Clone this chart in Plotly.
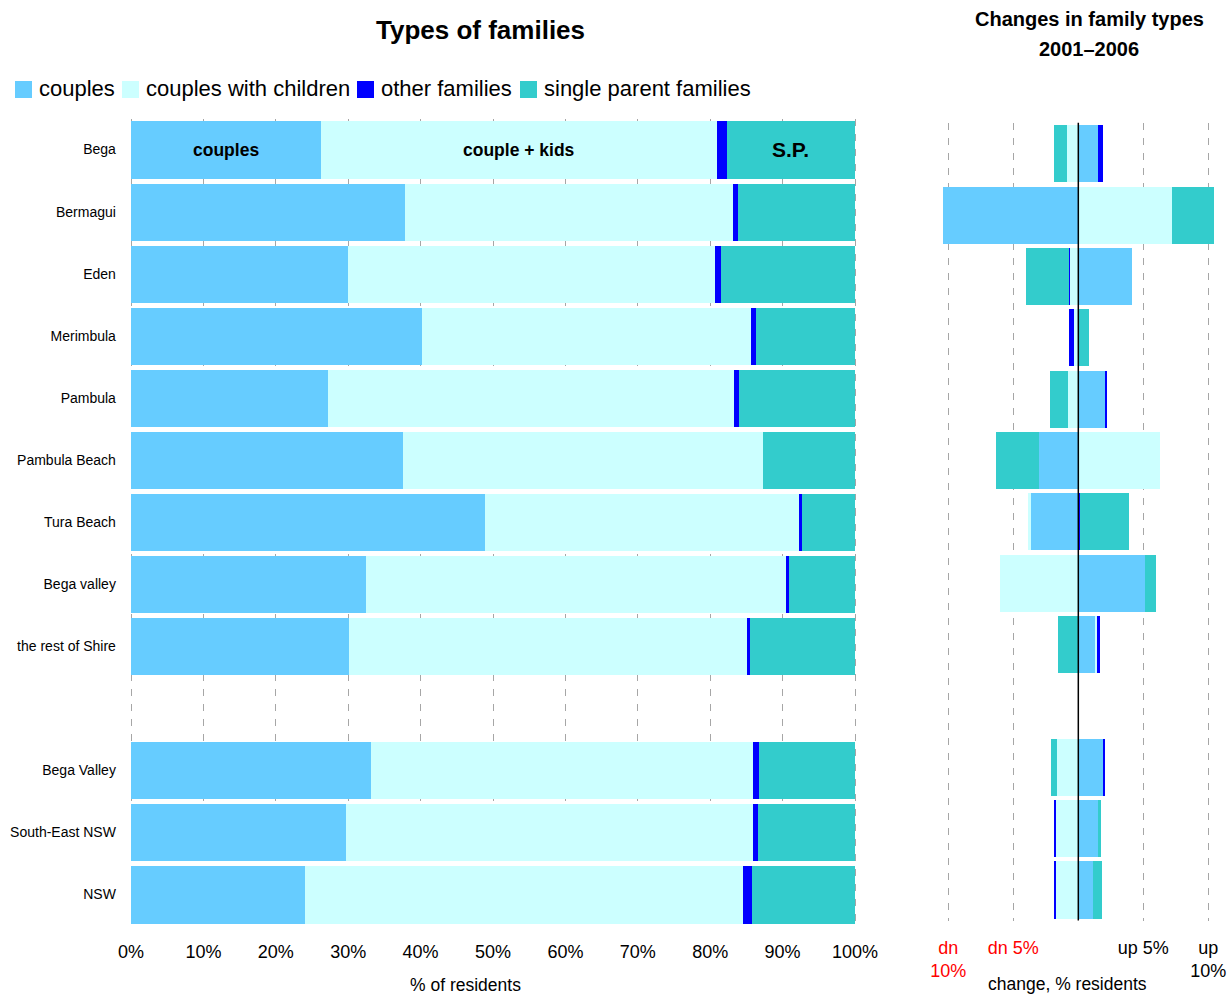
import plotly.graph_objects as go

# ---------------- data ----------------
places = ["Bega", "Bermagui", "Eden", "Merimbula", "Pambula", "Pambula Beach",
          "Tura Beach", "Bega valley", "the rest of Shire",
          "Bega Valley", "South-East NSW", "NSW"]
gap_after = 8  # a blank row separates the shire rows from the comparison rows

series_names = ["couples", "couples with children", "other families", "single parent families"]
series_colors = ["#66CCFF", "#CCFFFF", "#0000FF", "#33CCCC"]

# share of families (% of residents)
couples      = [26.2, 37.8, 30.0, 40.2, 27.2, 37.6, 48.9, 32.5, 30.1, 33.1, 29.7, 24.0]
couples_kids = [54.7, 45.3, 50.7, 45.4, 56.1, 49.7, 43.4, 58.0, 55.0, 52.8, 56.2, 60.5]
other_fam    = [1.4, 0.7, 0.8, 0.7, 0.7, 0.0, 0.3, 0.4, 0.4, 0.8, 0.7, 1.3]
single_par   = [17.7, 16.2, 18.5, 13.7, 16.0, 12.7, 7.4, 9.1, 14.5, 13.3, 13.4, 14.2]

# change 2001-2006 (percentage points)
chg_couples      = [1.5, -10.5, 4.1, 0.0, 2.1, -3.0, -3.65, 5.1, 1.3, 1.95, 1.5, 1.15]
chg_couples_kids = [-0.9, 7.2, -0.7, -0.3, -0.8, 6.3, -0.2, -6.0, 0.1, -1.65, -1.75, -1.75]
chg_other        = [0.4, 0.0, -0.05, -0.45, 0.1, 0.0, 0.15, 0.0, 0.3, 0.08, -0.08, -0.08]
chg_single_par   = [-1.0, 3.3, -3.3, 0.85, -1.4, -3.3, 3.75, 0.9, -1.6, -0.45, 0.25, 0.7]

left_tickvals = list(range(0, 101, 10))
left_ticktext = [f"{v}%" for v in left_tickvals]
right_tickvals = [-10, -5, 5, 10]
right_ticktext = ["<span style='color:red'>dn</span><br><span style='color:red'>10%</span>",
                  "<span style='color:red'>dn 5%</span>",
                  "up 5%",
                  "up<br>10%"]
bar_labels = ["couples", "couple + kids", None, "S.P."]

# ---------------- layout helpers ----------------
W, H = 1227, 994
def px(x):
    return x / W
def py(y):
    return 1 - y / H

ypos = [i if i <= gap_after else i + 1 for i in range(len(places))]
nrows = len(places) + 1

FONT = "Liberation Sans, Arial, Helvetica, sans-serif"

fig = go.Figure()

left_vals = [couples, couples_kids, other_fam, single_par]
right_vals = [chg_couples, chg_couples_kids, chg_other, chg_single_par]

for name, col, vals in zip(series_names, series_colors, left_vals):
    fig.add_trace(go.Bar(x=vals, y=ypos, orientation="h", name=name,
                         marker=dict(color=col, line=dict(width=0)),
                         width=0.92, xaxis="x", yaxis="y", showlegend=False,
                         hovertemplate="%{x}%<extra>" + name + "</extra>"))

for name, col, vals in zip(series_names, series_colors, right_vals):
    fig.add_trace(go.Bar(x=vals, y=ypos, orientation="h", name=name,
                         marker=dict(color=col, line=dict(width=0)),
                         width=0.93, xaxis="x2", yaxis="y2", showlegend=False,
                         hovertemplate="%{x}<extra>" + name + "</extra>"))

grid = dict(showgrid=True, gridcolor="#A6A6A6", gridwidth=1, griddash="7px,8px")

fig.update_layout(
    template="none",
    width=W, height=H,
    margin=dict(l=0, r=0, t=0, b=0, autoexpand=False),
    paper_bgcolor="white", plot_bgcolor="white",
    barmode="relative", bargap=0,
    font=dict(family=FONT, color="black"),
    xaxis=dict(domain=[px(131 - 0.15 * 7.24), px(855 + 0.15 * 7.24)], range=[-0.15, 100.15],
               tickvals=left_tickvals, ticktext=left_ticktext,
               zeroline=False, showline=False, ticks="", automargin=False,
               tickfont=dict(family=FONT, size=18), ticklabelstandoff=13,
               ticklabeloverflow="allow",
               anchor="y", fixedrange=True, **grid),
    yaxis=dict(domain=[py(925.5), py(118.5)], range=[nrows - 0.5, -0.5],
               tickvals=ypos, ticktext=places, showgrid=False, zeroline=False,
               ticks="", tickfont=dict(family=FONT, size=14), automargin=False,
               ticklabelstandoff=13, anchor="x", fixedrange=True),
    xaxis2=dict(domain=[px(943), px(1214)], range=[-10.41, 10.44],
                tickvals=right_tickvals, ticktext=right_ticktext,
                zeroline=False, showline=False, ticks="", automargin=False,
                tickfont=dict(family=FONT, size=18), ticklabelstandoff=14,
                ticklabeloverflow="allow",
                anchor="y2", fixedrange=True, **grid),
    yaxis2=dict(domain=[py(920.5), py(122.8)], range=[nrows - 0.5, -0.5],
                showticklabels=False, showgrid=False, zeroline=False,
                automargin=False, anchor="x2", fixedrange=True),
)

# centre line of the change panel
fig.add_shape(type="line", xref="x2", yref="y2 domain", x0=0, x1=0, y0=0, y1=1,
              line=dict(color="black", width=1.5), layer="above")

# labels inside the first bar (centred on their segments)
starts = [0, couples[0], couples[0] + couples_kids[0], couples[0] + couples_kids[0] + other_fam[0]]
seg_vals = [couples[0], couples_kids[0], other_fam[0], single_par[0]]
for lab, s, v in zip(bar_labels, starts, seg_vals):
    if lab is None:
        continue
    fig.add_annotation(x=s + v / 2, y=ypos[0], xref="x", yref="y", text="<b>" + lab + "</b>",
                       showarrow=False, xanchor="center", yanchor="middle",
                       font=dict(family=FONT, size=21 if lab == "S.P." else 17.5))

def text_at(x, y, text, size, anchor="center"):
    fig.add_annotation(x=px(x), y=py(y), xref="paper", yref="paper", text=text,
                       showarrow=False, xanchor=anchor, yanchor="middle",
                       font=dict(family=FONT, size=size))

# titles
text_at(481, 30, "<b>Types of families</b>", 26)
text_at(1089, 19, "<b>Changes in family types</b>", 20)
text_at(1089, 49, "<b>2001–2006</b>", 20)

# axis titles
text_at(466, 985, "% of residents", 17.5)
text_at(1067, 984, "change, % residents", 17.5)

# legend (swatch + label)
leg_x = [15, 122, 357, 520]
for name, col, lx in zip(series_names, series_colors, leg_x):
    fig.add_shape(type="rect", xref="paper", yref="paper",
                  x0=px(lx), x1=px(lx + 17), y0=py(98), y1=py(81),
                  fillcolor=col, line=dict(width=0))
    text_at(lx + 22, 89, name, 22, anchor="left")

fig.write_html("out.html",
               config={"displayModeBar": False},
               post_script="document.body.style.margin='0';document.body.style.overflow='hidden';")
